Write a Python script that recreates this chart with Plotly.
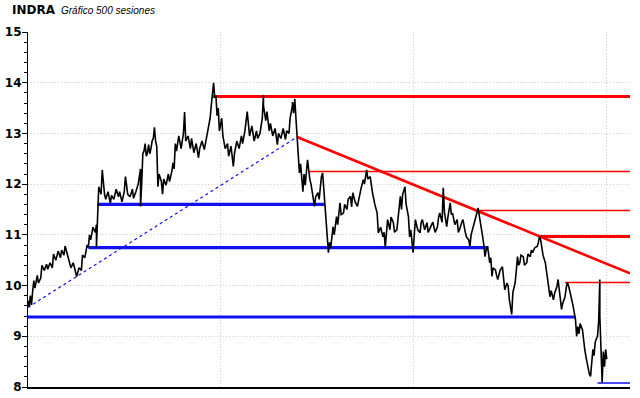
import plotly.graph_objects as go

# ---- price path (session index, price) ----
session = [
    0, 1, 2, 3, 4, 5, 6, 8, 9, 11, 12, 14, 16, 17, 19, 21, 22, 24, 26, 28, 29, 31, 32, 34, 35, 37, 39, 41, 42, 44,
    46, 47, 49, 51, 52, 53, 54, 56, 58, 59, 59, 60, 61, 63, 64, 66, 67, 69, 71, 72, 74, 76, 78, 79, 81, 83, 84, 86,
    88, 90, 91, 93, 95, 97, 97, 98, 99, 100, 101, 102, 103, 104, 105, 106, 107, 108, 109, 110, 111, 112, 113, 115,
    116, 117, 119, 121, 122, 124, 125, 126, 127, 128, 130, 132, 134, 135, 136, 138, 140, 141, 143, 145, 147, 148,
    150, 152, 153, 155, 157, 158, 159, 160, 161, 162, 163, 164, 165, 166, 167, 168, 170, 172, 173, 175, 177, 178,
    180, 182, 184, 185, 187, 189, 190, 191, 193, 195, 197, 198, 200, 202, 203, 203, 205, 206, 208, 209, 211, 213,
    215, 216, 218, 220, 222, 223, 225, 226, 228, 228, 229, 230, 231, 232,
    233, 234, 235, 236, 237, 238, 239, 241, 242, 243, 244, 246, 247, 248, 250, 251, 253, 254, 255, 256, 258, 259,
    260, 261, 263, 264, 266, 267, 269, 270, 272, 273, 275, 276, 278, 279, 280, 282, 284, 285, 286, 287, 289, 290,
    292, 293, 295, 296, 297, 299, 301, 302, 304, 306, 307, 308, 309, 310, 312, 313, 315, 316, 318, 319, 321, 322,
    323, 325, 326, 328, 329, 330, 332, 333, 334, 336, 338, 339, 340, 342, 344, 345, 347, 349, 351, 353, 354, 355,
    357, 358, 359, 361, 362, 364, 365, 366, 368, 370, 371, 372, 374, 375, 377, 378, 380, 381, 382, 384, 386, 387,
    388, 389, 390, 391, 392, 393, 394, 395, 396,
    397, 398, 399, 400, 401, 403, 404, 405, 407, 409, 410, 411, 413, 414, 415, 416, 417, 418, 419, 420, 421, 422,
    423, 424, 425, 427, 428, 430, 431, 433, 434, 435, 437, 439, 440, 441, 442, 443, 444, 446, 447, 448, 450, 451,
    453, 454, 456, 457, 458, 459, 460, 461, 463, 464, 465, 466, 467, 468, 470, 471, 472, 473, 474, 475, 476, 478,
    479, 480, 481, 482, 483, 484, 485, 486, 487, 488, 489, 490, 491, 492, 493, 493, 494, 495, 496, 497, 498, 499,
]
price = [
    9.70, 9.58, 9.80, 9.62, 9.88, 10.10, 9.95, 10.20, 10.05, 10.15, 10.40, 10.30, 10.42, 10.32, 10.45, 10.35, 10.62,
    10.50, 10.68, 10.55, 10.70, 10.60, 10.78, 10.62, 10.50, 10.35, 10.45, 10.28, 10.18, 10.35,
    10.30, 10.60, 10.55, 10.80, 10.75, 11.00, 10.90, 11.15, 11.05, 11.20, 10.75, 11.35, 11.95, 11.80, 12.28, 11.80,
    11.70, 11.85, 11.62, 11.78, 11.70, 11.90, 11.75, 11.85, 11.65, 11.85, 12.15, 11.80,
    11.75, 11.90, 11.72, 11.85, 12.00, 12.30, 11.56, 12.00, 12.60, 12.65, 12.80, 12.55, 12.62, 12.78, 12.60, 12.70,
    12.85, 12.90, 13.12, 12.85, 12.74, 11.95, 12.20, 12.05,
    11.80, 12.10, 11.98, 12.20, 12.05, 12.25, 12.42, 12.30, 12.80, 12.65, 12.95, 12.70, 13.00, 13.42, 12.85, 12.95,
    12.70, 12.90, 12.62, 12.80, 12.52, 12.70,
    12.85, 12.68, 12.82, 13.10, 13.30, 13.55, 13.75, 14.00, 13.70, 13.75, 13.35, 13.50, 13.05, 13.20, 13.30, 12.95,
    12.70, 12.80, 12.55, 12.75, 12.35, 12.60,
    12.85, 12.70, 12.95, 12.80, 13.05, 13.43, 13.10, 12.95, 13.15, 12.85, 13.05, 12.90, 13.00, 13.30, 13.76, 13.55,
    13.25, 13.43, 13.05, 13.20, 12.95, 13.10,
    12.78, 13.00, 12.90, 13.10, 12.88, 13.05, 13.00, 13.30, 13.55, 13.62, 13.40, 13.68, 13.30, 12.95,
    12.48, 12.22, 12.40, 12.10, 11.85, 12.20, 11.98, 12.48, 12.25, 12.09, 12.00, 11.63, 11.56, 11.75, 11.83, 11.70,
    12.15, 12.22, 11.90, 11.63, 10.91, 10.65,
    10.85, 10.75, 11.16, 11.00, 11.36, 11.20, 11.63, 11.40, 11.43, 11.60, 11.50, 11.70, 11.76, 11.55, 11.83, 11.65,
    11.56, 11.70, 11.76, 11.90, 12.09, 12.00,
    12.28, 12.10, 12.15, 11.95, 11.83, 11.60, 11.43, 11.04, 11.15, 10.96, 11.05, 10.75, 11.00, 11.30, 11.10, 11.35,
    11.24, 11.05, 11.10, 11.30, 11.76, 11.50,
    11.80, 11.95, 11.60, 11.36, 10.96, 11.10, 10.65, 11.00, 11.30, 11.10, 11.04, 11.25, 11.30, 11.10, 11.24, 11.05,
    11.16, 11.25, 11.05, 11.16, 11.35, 11.43,
    11.25, 11.93, 11.45, 11.16, 11.35, 11.63, 11.40, 11.43, 11.20, 11.30, 11.05, 11.10, 11.25, 11.30, 11.05, 10.96,
    10.90, 10.77, 11.00, 11.16, 11.30, 11.43,
    11.53, 11.40, 11.30, 11.16, 10.96, 10.80, 10.57, 10.70, 10.77,
    10.65, 10.45, 10.55, 10.18, 10.35, 10.31, 10.20, 10.12, 10.30, 10.37, 10.15, 9.92, 10.05, 9.98, 9.72, 9.60, 9.43,
    9.86, 9.95, 10.06, 10.30, 10.57,
    10.40, 10.45, 10.60, 10.57, 10.40, 10.45, 10.62, 10.57, 10.70, 10.65, 10.75, 10.77, 10.85, 10.97, 10.90, 10.77,
    10.60, 10.45, 10.25, 10.05, 9.78, 9.90,
    9.72, 9.85, 9.98, 10.12, 9.90, 9.72, 9.53, 9.65, 9.78, 9.95, 10.06, 10.00, 9.92, 9.80, 9.59, 9.45, 9.33, 9.00,
    9.19, 9.05, 9.25, 9.13,
    8.88, 8.74, 8.60, 8.48, 8.35, 8.25, 8.21, 8.48, 8.74, 8.62, 8.88, 8.95, 9.00, 9.30, 10.12, 9.40, 8.60, 8.09, 8.70,
    8.40, 8.74, 8.55,
]

# ---- support / resistance levels ----
x_end = 519  # right edge of the chart, in sessions
red_thick_levels = [(159, 13.73), (441, 10.97)]          # (start session, level)
red_thin_levels = [(243, 12.25), (388, 11.48), (463, 10.06)]
blue_thick_levels = [(60, 256, 11.60), (52, 397, 10.75), (0, 472, 9.38)]  # (start, end, level)
blue_thin_levels = [(491, 8.08)]
red_trend = ([232, x_end], [12.93, 10.24])
blue_trend = ([0, 232], [9.57, 12.93])

y_ticks = [8, 9, 10, 11, 12, 13, 14, 15]
x_grid = [166, 332, 499]

RED = "#ff0000"
BLUE = "#1010f0"
GRID = "#cfcfcf"

fig = go.Figure()

for s0, lv in red_thick_levels:
    fig.add_trace(go.Scatter(x=[s0, x_end], y=[lv, lv], mode="lines",
                             line=dict(color=RED, width=3), hoverinfo="skip"))
for s0, lv in red_thin_levels:
    fig.add_trace(go.Scatter(x=[s0, x_end], y=[lv, lv], mode="lines",
                             line=dict(color=RED, width=1.5), hoverinfo="skip"))
for s0, s1, lv in blue_thick_levels:
    fig.add_trace(go.Scatter(x=[s0, s1], y=[lv, lv], mode="lines",
                             line=dict(color=BLUE, width=3.2), hoverinfo="skip"))
for s0, lv in blue_thin_levels:
    fig.add_trace(go.Scatter(x=[s0, x_end], y=[lv, lv], mode="lines",
                             line=dict(color=BLUE, width=1.5), hoverinfo="skip"))
fig.add_trace(go.Scatter(x=red_trend[0], y=red_trend[1], mode="lines",
                         line=dict(color=RED, width=2.6), hoverinfo="skip"))
fig.add_trace(go.Scatter(x=blue_trend[0], y=blue_trend[1], mode="lines",
                         line=dict(color=BLUE, width=1.2, dash="dot"), hoverinfo="skip"))

fig.add_trace(go.Scatter(x=session, y=price, mode="lines",
                         line=dict(color="black", width=1.6)))

fig.update_layout(
    width=640, height=398,
    margin=dict(l=28, r=10, t=32, b=11),
    paper_bgcolor="white", plot_bgcolor="white",
    showlegend=False,
    xaxis=dict(range=[0, x_end], tickvals=x_grid, showticklabels=False, ticks="",
               showgrid=True, gridcolor=GRID, griddash="1px,2px", gridwidth=1,
               showline=True, linecolor="black", linewidth=1.5, zeroline=False,
               fixedrange=True),
    yaxis=dict(range=[8, 15], tickvals=y_ticks, ticktext=[str(v) for v in y_ticks],
               ticks="outside", ticklen=5, tickcolor="black", tickwidth=1,
               showgrid=True, gridcolor=GRID, griddash="1px,2px", gridwidth=1,
               showline=True, linecolor="black", linewidth=1.2, zeroline=False,
               tickfont=dict(family="DejaVu Sans", size=12, color="black", weight="bold"),
               ticklabelstandoff=-2,
               minor=dict(dtick=0.2, ticks="outside", ticklen=3, tickcolor="black", showgrid=False),
               automargin=False, fixedrange=True),
    annotations=[
        dict(text="<b>INDRA</b>", xref="paper", yref="paper", x=-0.030, y=1.062,
             xanchor="left", yanchor="middle", showarrow=False,
             font=dict(family="DejaVu Sans", size=12, color="black")),
        dict(text="<i>Gráfico 500 sesiones</i>", xref="paper", yref="paper", x=0.052, y=1.060,
             xanchor="left", yanchor="middle", showarrow=False,
             font=dict(family="Liberation Sans", size=10, color="black")),
    ],
)

fig.write_html("out.html", config={"displayModeBar": False},
               post_script="document.body.style.margin='0px';")
